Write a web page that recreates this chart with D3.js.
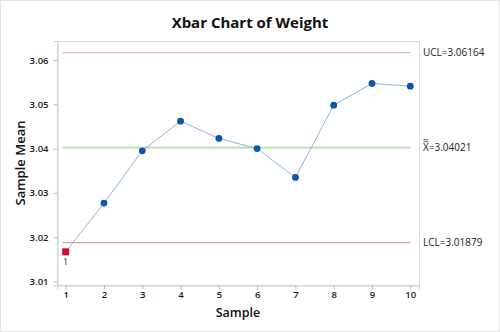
<!DOCTYPE html>
<html>
<head>
<meta charset="utf-8">
<script src="https://cdn.jsdelivr.net/npm/d3@7"></script>
<style>
  html, body { margin: 0; padding: 0; background: #fff; }
  svg { display: block; font-family: "Open Sans", "Noto Sans", sans-serif; }
</style>
</head>
<body>
<svg id="chart" width="500" height="332"></svg>
<script>
// Subgroup means of weight, samples 1..10
const samples = [1, 2, 3, 4, 5, 6, 7, 8, 9, 10];
const means = [3.0167, 3.0277, 3.0395, 3.0462, 3.0423, 3.0400, 3.0335, 3.0498, 3.0547, 3.0541];
// Control limits
const limitNames = ["UCL", "CL", "LCL"];
const limitValues = [3.06164, 3.04021, 3.01879];
const yTicks = [3.01, 3.02, 3.03, 3.04, 3.05, 3.06];
// Samples flagged by test 1 (beyond limits)
const flagged = [1];

const svg = d3.select("#chart");
const W = 500, H = 332;
const m = { left: 57, right: 81, top: 41, bottom: 47 };

// outer frame
svg.append("rect").attr("x", 0.5).attr("y", 0.5).attr("width", W - 1).attr("height", H - 1)
  .attr("fill", "#fff").attr("stroke", "#e3e3e3");

const x = d3.scaleLinear().domain([0.773, 10.227]).range([m.left, W - m.right]);
const y = d3.scaleLinear().domain([3.00921, 3.06429]).range([H - m.bottom, m.top]);

// plot frame
svg.append("rect")
  .attr("x", m.left + 0.5).attr("y", m.top + 0.5)
  .attr("width", W - m.right - m.left).attr("height", H - m.bottom - m.top)
  .attr("fill", "none").attr("stroke", "#dcdcdc");

// axes
const yAxis = d3.axisLeft(y).tickValues(yTicks).tickFormat(d3.format(".2f")).tickSize(4).tickPadding(5);
const xAxis = d3.axisBottom(x).tickValues(samples).tickFormat(d3.format("d")).tickSize(4).tickPadding(2);

const gy = svg.append("g").attr("transform", `translate(${m.left + 0.5},0)`).call(yAxis);
const gx = svg.append("g").attr("transform", `translate(0,${H - m.bottom + 0.5})`).call(xAxis);
[gy, gx].forEach(g => {
  g.select(".domain").attr("stroke", "#cfcfcf");
  g.selectAll(".tick line").attr("stroke", "#bdbdbd");
  g.selectAll(".tick text").attr("fill", "#1a1a1a").attr("font-size", 9.5).attr("font-weight", 600)
    .attr("font-family", "\"Open Sans\", \"Noto Sans\", sans-serif");
});

// control limit lines
const limitColor = { UCL: "#e6a3a3", CL: "#b9dcb2", LCL: "#e39a9a" };
const limitWidth = { UCL: 1.2, CL: 1.6, LCL: 1.2 };
limitNames.forEach((n, i) => {
  svg.append("line")
    .attr("x1", x(0.92)).attr("x2", x(10))
    .attr("y1", y(limitValues[i])).attr("y2", y(limitValues[i]))
    .attr("stroke", limitColor[n]).attr("stroke-width", limitWidth[n]);
});

// connecting line
const line = d3.line().x((d, i) => x(samples[i])).y(d => y(d));
svg.append("path").datum(means)
  .attr("d", line).attr("fill", "none")
  .attr("stroke", "#8fb4df").attr("stroke-width", 1);

// points
samples.forEach((s, i) => {
  if (flagged.includes(s)) {
    svg.append("rect")
      .attr("x", x(s) - 3.5).attr("y", y(means[i]) - 3.5)
      .attr("width", 7).attr("height", 7).attr("fill", "#c8102e");
    svg.append("text").attr("x", x(s)).attr("y", y(means[i]) + 13)
      .attr("text-anchor", "middle").attr("font-size", 9).attr("fill", "#333").text("1");
  } else {
    svg.append("circle").attr("cx", x(s)).attr("cy", y(means[i]))
      .attr("r", 3.4).attr("fill", "#0b56a8");
  }
});

// limit labels on the right
const lx = W - m.right + 4;
const fmt = d3.format(".5f");
limitNames.forEach((n, i) => {
  const yy = y(limitValues[i]) + 3.5;
  if (n === "CL") {
    const t = svg.append("text").attr("x", lx).attr("y", yy).attr("font-size", 10).attr("fill", "#222");
    const xs = t.append("tspan").text("X");
    t.append("tspan").text("=" + fmt(limitValues[i]));
    const xw = xs.node().getComputedTextLength();
    [-9.5, -11.5].forEach(dy => {
      svg.append("line").attr("x1", lx + 0.5).attr("x2", lx + xw - 0.5)
        .attr("y1", yy + dy).attr("y2", yy + dy)
        .attr("stroke", "#222").attr("stroke-width", 0.7);
    });
  } else {
    svg.append("text").attr("x", lx).attr("y", yy).attr("font-size", 10).attr("fill", "#222")
      .text(n + "=" + fmt(limitValues[i]));
  }
});

// titles
svg.append("text").attr("x", 250).attr("y", 28).attr("text-anchor", "middle")
  .attr("font-size", 15).attr("font-weight", "bold").attr("fill", "#111")
  .text("Xbar Chart of Weight");
svg.append("text").attr("x", 238).attr("y", 317).attr("text-anchor", "middle")
  .attr("font-size", 12.5).attr("font-weight", 600).attr("fill", "#111").text("Sample");
svg.append("text").attr("transform", `translate(25,${(m.top + H - m.bottom) / 2}) rotate(-90)`)
  .attr("text-anchor", "middle").attr("font-size", 13).attr("font-weight", 600).attr("fill", "#111").text("Sample Mean");
</script>
</body>
</html>
